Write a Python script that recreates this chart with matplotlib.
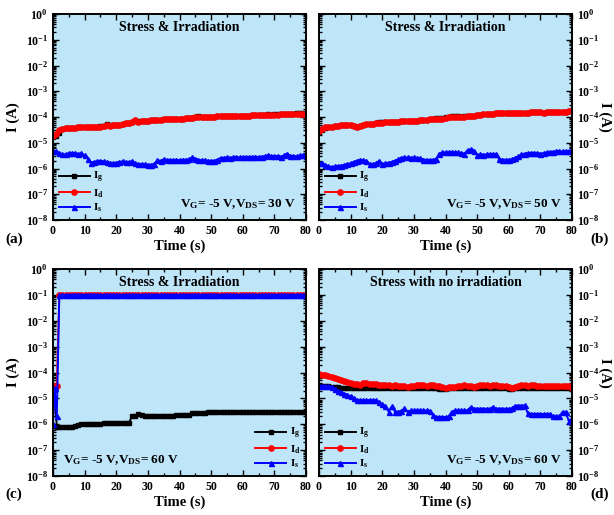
import matplotlib
matplotlib.use("Agg")
import matplotlib.pyplot as plt
from matplotlib.ticker import MultipleLocator, LogLocator, NullFormatter

plt.rcParams['font.family'] = ['Liberation Serif', 'DejaVu Serif']
plt.rcParams['font.weight'] = 'bold'
plt.rcParams['axes.labelweight'] = 'bold'
plt.rcParams['mathtext.fontset'] = 'custom'
plt.rcParams['mathtext.rm'] = 'Liberation Serif:bold'
plt.rcParams['mathtext.it'] = 'Liberation Serif:bold'
plt.rcParams['mathtext.bf'] = 'Liberation Serif:bold'

# time axis for panels a, b, d (1 s steps)
t = list(range(0, 81))
# panel c has a few extra points during the first seconds
t_c = [0, 0.5, 1.2] + list(range(2, 81))

# ---- panel (a): VDS = 30 V ----
ig_a = [1.7e-5, 1.8e-5, 2.4e-5, 3.3e-5, 3.6e-5, 3.7e-5, 3.8e-5, 3.9e-5, 4.0e-5, 4.0e-5,
        4.1e-5, 4.1e-5, 4.0e-5, 4.1e-5, 4.2e-5, 4.3e-5, 4.6e-5, 5.2e-5, 4.8e-5, 4.9e-5,
        5.0e-5, 5.1e-5, 5.4e-5, 5.6e-5, 5.8e-5, 6.3e-5, 7.2e-5, 6.7e-5, 6.9e-5, 7.1e-5,
        7.3e-5, 7.5e-5, 7.6e-5, 7.8e-5, 7.9e-5, 8.0e-5, 8.2e-5, 8.3e-5, 8.4e-5, 8.5e-5,
        8.6e-5, 8.7e-5, 8.9e-5, 9.0e-5, 9.3e-5, 9.8e-5, 1.07e-4, 9.9e-5, 9.9e-5, 1.0e-4,
        1.0e-4, 1.02e-4, 1.08e-4, 1.05e-4, 1.06e-4, 1.07e-4, 1.08e-4, 1.09e-4, 1.1e-4, 1.11e-4,
        1.12e-4, 1.13e-4, 1.14e-4, 1.15e-4, 1.16e-4, 1.18e-4, 1.2e-4, 1.22e-4, 1.26e-4, 1.25e-4,
        1.26e-4, 1.27e-4, 1.28e-4, 1.3e-4, 1.32e-4, 1.34e-4, 1.36e-4, 1.38e-4, 1.4e-4, 1.38e-4,
        1.35e-4]
id_a = [1.9e-5, 2.2e-5, 3.0e-5, 3.4e-5, 3.6e-5, 3.7e-5, 3.8e-5, 3.9e-5, 4.0e-5, 4.0e-5,
        4.1e-5, 4.1e-5, 4.0e-5, 4.1e-5, 4.2e-5, 4.2e-5, 4.4e-5, 4.7e-5, 4.6e-5, 4.8e-5,
        5.0e-5, 5.1e-5, 5.4e-5, 5.6e-5, 5.8e-5, 6.3e-5, 7.4e-5, 6.6e-5, 6.9e-5, 7.1e-5,
        7.3e-5, 7.4e-5, 7.6e-5, 7.8e-5, 7.9e-5, 8.0e-5, 8.2e-5, 8.3e-5, 8.4e-5, 8.5e-5,
        8.6e-5, 8.7e-5, 8.9e-5, 9.0e-5, 9.3e-5, 9.6e-5, 9.9e-5, 9.7e-5, 9.8e-5, 1.0e-4,
        1.0e-4, 1.02e-4, 1.07e-4, 1.05e-4, 1.06e-4, 1.07e-4, 1.08e-4, 1.09e-4, 1.1e-4, 1.11e-4,
        1.12e-4, 1.13e-4, 1.14e-4, 1.15e-4, 1.16e-4, 1.17e-4, 1.18e-4, 1.2e-4, 1.22e-4, 1.23e-4,
        1.24e-4, 1.25e-4, 1.26e-4, 1.27e-4, 1.28e-4, 1.3e-4, 1.31e-4, 1.32e-4, 1.33e-4, 1.3e-4,
        1.25e-4]
is_a = [5.0e-6, 4.6e-6, 4.0e-6, 3.5e-6, 3.6e-6, 3.9e-6, 4.1e-6, 3.9e-6, 3.7e-6, 3.9e-6,
        3.2e-6, 2.4e-6, 1.7e-6, 1.8e-6, 1.9e-6, 2.0e-6, 1.9e-6, 1.8e-6, 1.7e-6, 1.6e-6,
        1.7e-6, 1.8e-6, 1.9e-6, 1.8e-6, 1.8e-6, 1.9e-6, 1.6e-6, 1.5e-6, 1.5e-6, 1.45e-6,
        1.4e-6, 1.4e-6, 1.5e-6, 2.1e-6, 2.0e-6, 2.3e-6, 2.1e-6, 2.2e-6, 2.1e-6, 2.2e-6,
        2.1e-6, 2.2e-6, 2.2e-6, 2.3e-6, 2.7e-6, 2.4e-6, 2.2e-6, 2.1e-6, 2.1e-6, 2.0e-6,
        2.0e-6, 2.0e-6, 2.2e-6, 2.6e-6, 2.6e-6, 2.7e-6, 2.6e-6, 2.7e-6, 2.8e-6, 2.7e-6,
        2.8e-6, 2.8e-6, 2.7e-6, 2.8e-6, 2.9e-6, 2.8e-6, 2.9e-6, 3.0e-6, 3.3e-6, 3.0e-6,
        3.0e-6, 3.1e-6, 2.9e-6, 3.2e-6, 3.8e-6, 3.0e-6, 3.1e-6, 3.0e-6, 3.2e-6, 3.3e-6,
        3.1e-6]

# ---- panel (b): VDS = 50 V ----
ig_b = [2.6e-5, 3.1e-5, 3.9e-5, 4.2e-5, 4.1e-5, 4.3e-5, 4.5e-5, 4.8e-5, 4.9e-5, 4.8e-5,
        4.7e-5, 4.5e-5, 4.2e-5, 4.4e-5, 4.9e-5, 5.4e-5, 5.5e-5, 5.4e-5, 5.9e-5, 6.2e-5,
        6.4e-5, 6.3e-5, 6.4e-5, 6.3e-5, 6.5e-5, 6.6e-5, 6.7e-5, 6.8e-5, 6.9e-5, 7.0e-5,
        7.2e-5, 7.3e-5, 7.5e-5, 7.7e-5, 7.9e-5, 8.1e-5, 8.4e-5, 8.8e-5, 8.9e-5, 9.2e-5,
        1.0e-4, 1.04e-4, 1.06e-4, 1.05e-4, 1.05e-4, 1.04e-4, 1.05e-4, 1.07e-4, 1.09e-4, 1.13e-4,
        1.2e-4, 1.24e-4, 1.27e-4, 1.3e-4, 1.32e-4, 1.35e-4, 1.38e-4, 1.4e-4, 1.42e-4, 1.44e-4,
        1.46e-4, 1.47e-4, 1.47e-4, 1.46e-4, 1.47e-4, 1.48e-4, 1.49e-4, 1.5e-4, 1.5e-4, 1.51e-4,
        1.5e-4, 1.49e-4, 1.5e-4, 1.52e-4, 1.54e-4, 1.56e-4, 1.58e-4, 1.6e-4, 1.62e-4, 1.64e-4,
        1.66e-4]
id_b = [2.8e-5, 3.3e-5, 4.0e-5, 4.2e-5, 4.1e-5, 4.3e-5, 4.5e-5, 4.8e-5, 4.9e-5, 4.8e-5,
        4.7e-5, 4.4e-5, 4.0e-5, 4.3e-5, 4.9e-5, 5.4e-5, 5.5e-5, 5.3e-5, 5.8e-5, 6.1e-5,
        6.0e-5, 6.2e-5, 6.4e-5, 6.3e-5, 6.5e-5, 6.6e-5, 6.7e-5, 6.8e-5, 6.9e-5, 7.0e-5,
        7.2e-5, 7.3e-5, 7.5e-5, 7.7e-5, 7.9e-5, 8.0e-5, 8.2e-5, 8.3e-5, 8.4e-5, 8.6e-5,
        9.4e-5, 9.8e-5, 1.0e-4, 1.01e-4, 1.02e-4, 1.03e-4, 1.04e-4, 1.06e-4, 1.08e-4, 1.12e-4,
        1.2e-4, 1.24e-4, 1.27e-4, 1.3e-4, 1.32e-4, 1.35e-4, 1.38e-4, 1.4e-4, 1.42e-4, 1.44e-4,
        1.46e-4, 1.47e-4, 1.47e-4, 1.46e-4, 1.47e-4, 1.48e-4, 1.49e-4, 1.5e-4, 1.5e-4, 1.51e-4,
        1.5e-4, 1.49e-4, 1.5e-4, 1.52e-4, 1.54e-4, 1.56e-4, 1.58e-4, 1.6e-4, 1.62e-4, 1.64e-4,
        1.66e-4]
is_b = [1.6e-6, 1.6e-6, 1.4e-6, 1.2e-6, 1.15e-6, 1.2e-6, 1.25e-6, 1.3e-6, 1.4e-6, 1.5e-6,
        1.6e-6, 1.8e-6, 2.0e-6, 2.2e-6, 2.1e-6, 2.0e-6, 1.5e-6, 1.5e-6, 1.6e-6, 2.0e-6,
        1.5e-6, 1.6e-6, 1.7e-6, 1.8e-6, 2.0e-6, 2.3e-6, 2.6e-6, 2.7e-6, 2.7e-6, 2.6e-6,
        2.7e-6, 2.6e-6, 2.5e-6, 2.2e-6, 2.2e-6, 2.1e-6, 2.2e-6, 2.3e-6, 3.8e-6, 4.2e-6,
        4.3e-6, 4.2e-6, 4.4e-6, 4.2e-6, 4.3e-6, 4.0e-6, 3.8e-6, 5.2e-6, 5.5e-6, 5.0e-6,
        3.4e-6, 3.5e-6, 3.4e-6, 3.6e-6, 3.5e-6, 3.7e-6, 3.6e-6, 2.3e-6, 2.2e-6, 2.2e-6,
        2.2e-6, 2.3e-6, 2.6e-6, 3.0e-6, 3.5e-6, 3.8e-6, 4.0e-6, 4.0e-6, 4.1e-6, 3.9e-6,
        3.8e-6, 4.0e-6, 4.2e-6, 4.4e-6, 4.5e-6, 4.7e-6, 4.8e-6, 4.6e-6, 4.7e-6, 4.8e-6,
        5.0e-6]

# ---- panel (c): VDS = 60 V, breakdown ----
ig_c = [None, 2.2e-5, 7.5e-7, 7.5e-7, 7.6e-7, 7.8e-7, 7.8e-7, 8.0e-7, 8.2e-7, 9.5e-7,
        9.8e-7, 1.0e-6, 1.0e-6, 1.05e-6, 1.05e-6, 1.06e-6, 1.06e-6, 1.07e-6, 1.07e-6, 1.08e-6,
        1.08e-6, 1.09e-6, 1.1e-6, 1.1e-6, 1.12e-6, 1.15e-6, 2.0e-6, 2.1e-6, 2.4e-6, 2.2e-6,
        2.15e-6, 2.1e-6, 2.1e-6, 2.1e-6, 2.1e-6, 2.1e-6, 2.1e-6, 2.15e-6, 2.15e-6, 2.15e-6,
        2.2e-6, 2.2e-6, 2.2e-6, 2.2e-6, 2.2e-6, 2.7e-6, 2.75e-6, 2.8e-6, 2.8e-6, 2.8e-6,
        2.85e-6, 2.85e-6, 2.9e-6, 2.9e-6, 2.9e-6, 2.9e-6, 2.9e-6, 2.9e-6, 2.95e-6, 2.95e-6,
        2.95e-6, 2.95e-6, 2.95e-6, 3.0e-6, 3.0e-6, 3.0e-6, 3.0e-6, 3.0e-6, 3.0e-6, 3.0e-6,
        3.0e-6, 3.0e-6, 3.05e-6, 3.05e-6, 3.05e-6, 3.05e-6, 3.05e-6, 3.1e-6, 3.1e-6, 3.1e-6,
        3.1e-6, 3.1e-6]
id_c = [3.0e-5, 3.0e-5, 3.0e-5, 0.095, 0.095, 0.095, 0.095, 0.095, 0.095, 0.095,
        0.095, 0.095, 0.095, 0.095, 0.095, 0.095, 0.095, 0.095, 0.095, 0.095,
        0.095, 0.095, 0.095, 0.095, 0.095, 0.095, 0.095, 0.095, 0.095, 0.095,
        0.095, 0.095, 0.095, 0.095, 0.095, 0.095, 0.095, 0.095, 0.095, 0.095,
        0.095, 0.095, 0.095, 0.095, 0.095, 0.095, 0.095, 0.095, 0.095, 0.095,
        0.095, 0.095, 0.095, 0.095, 0.095, 0.095, 0.095, 0.095, 0.095, 0.095,
        0.095, 0.095, 0.095, 0.095, 0.095, 0.095, 0.095, 0.095, 0.095, 0.095,
        0.095, 0.095, 0.095, 0.095, 0.095, 0.095, 0.095, 0.095, 0.095, 0.095,
        0.095, 0.095]
is_c = [1.0e-6, 2.5e-5, 2.0e-6, 0.1, 0.1, 0.1, 0.1, 0.1, 0.1, 0.1,
        0.1, 0.1, 0.1, 0.1, 0.1, 0.1, 0.1, 0.1, 0.1, 0.1,
        0.1, 0.1, 0.1, 0.1, 0.1, 0.1, 0.1, 0.1, 0.1, 0.1,
        0.1, 0.1, 0.1, 0.1, 0.1, 0.1, 0.1, 0.1, 0.1, 0.1,
        0.1, 0.1, 0.1, 0.1, 0.1, 0.1, 0.1, 0.1, 0.1, 0.1,
        0.1, 0.1, 0.1, 0.1, 0.1, 0.1, 0.1, 0.1, 0.1, 0.1,
        0.1, 0.1, 0.1, 0.1, 0.1, 0.1, 0.1, 0.1, 0.1, 0.1,
        0.1, 0.1, 0.1, 0.1, 0.1, 0.1, 0.1, 0.1, 0.1, 0.1,
        0.1, 0.1]

# ---- panel (d): VDS = 60 V, dark ----
ig_d = [3.0e-5, 3.0e-5, 2.9e-5, 2.9e-5, 2.8e-5, 2.7e-5, 2.7e-5, 2.6e-5, 2.6e-5, 2.6e-5,
        2.5e-5, 2.5e-5, 2.5e-5, 2.55e-5, 2.5e-5, 2.6e-5, 2.55e-5, 2.5e-5, 2.5e-5, 2.5e-5,
        2.5e-5, 2.5e-5, 2.45e-5, 2.5e-5, 2.5e-5, 2.45e-5, 2.45e-5, 2.5e-5, 2.45e-5, 2.45e-5,
        2.5e-5, 2.5e-5, 2.5e-5, 2.5e-5, 2.45e-5, 2.5e-5, 2.45e-5, 2.45e-5, 2.4e-5, 2.4e-5,
        2.4e-5, 2.45e-5, 2.45e-5, 2.45e-5, 2.5e-5, 2.5e-5, 2.5e-5, 2.5e-5, 2.45e-5, 2.45e-5,
        2.5e-5, 2.5e-5, 2.5e-5, 2.5e-5, 2.5e-5, 2.5e-5, 2.5e-5, 2.45e-5, 2.45e-5, 2.45e-5,
        2.4e-5, 2.4e-5, 2.45e-5, 2.45e-5, 2.5e-5, 2.5e-5, 2.5e-5, 2.5e-5, 2.5e-5, 2.45e-5,
        2.45e-5, 2.45e-5, 2.45e-5, 2.45e-5, 2.45e-5, 2.45e-5, 2.45e-5, 2.45e-5, 2.45e-5, 2.45e-5,
        2.4e-5]
id_d = [8.5e-5, 8.3e-5, 8.0e-5, 7.5e-5, 6.8e-5, 6.0e-5, 5.4e-5, 5.0e-5, 4.6e-5, 4.3e-5,
        4.0e-5, 3.5e-5, 3.7e-5, 3.4e-5, 3.8e-5, 3.9e-5, 3.7e-5, 3.5e-5, 3.6e-5, 3.4e-5,
        3.3e-5, 3.2e-5, 3.3e-5, 3.1e-5, 3.2e-5, 3.1e-5, 3.0e-5, 2.9e-5, 2.8e-5, 2.9e-5,
        3.1e-5, 3.2e-5, 3.2e-5, 3.3e-5, 3.1e-5, 3.2e-5, 3.2e-5, 3.1e-5, 2.9e-5, 2.7e-5,
        2.6e-5, 2.8e-5, 2.7e-5, 2.8e-5, 3.1e-5, 3.1e-5, 3.3e-5, 3.0e-5, 2.9e-5, 2.7e-5,
        3.1e-5, 3.2e-5, 3.3e-5, 3.2e-5, 3.1e-5, 3.3e-5, 3.2e-5, 3.0e-5, 3.1e-5, 2.9e-5,
        2.7e-5, 2.5e-5, 2.8e-5, 3.0e-5, 3.2e-5, 3.3e-5, 3.1e-5, 3.2e-5, 3.2e-5, 3.1e-5,
        3.0e-5, 3.1e-5, 3.0e-5, 3.0e-5, 2.9e-5, 2.9e-5, 3.0e-5, 3.0e-5, 2.9e-5, 3.0e-5,
        2.6e-5]
is_d = [3.0e-5, 3.0e-5, 3.0e-5, 2.9e-5, 2.8e-5, 2.3e-5, 2.0e-5, 1.8e-5, 1.5e-5, 1.4e-5,
        1.2e-5, 1.0e-5, 8.5e-6, 8.5e-6, 8.5e-6, 8.5e-6, 8.7e-6, 8.5e-6, 8.5e-6, 7.0e-6,
        6.0e-6, 5.0e-6, 3.1e-6, 4.9e-6, 3.1e-6, 3.1e-6, 3.2e-6, 4.2e-6, 3.1e-6, 3.4e-6,
        3.4e-6, 3.4e-6, 3.4e-6, 3.4e-6, 3.4e-6, 3.3e-6, 2.2e-6, 1.9e-6, 1.9e-6, 1.9e-6,
        1.9e-6, 2.0e-6, 3.1e-6, 3.4e-6, 3.4e-6, 3.4e-6, 3.4e-6, 3.5e-6, 4.6e-6, 4.0e-6,
        4.0e-6, 4.0e-6, 4.0e-6, 4.0e-6, 4.0e-6, 4.7e-6, 4.0e-6, 4.0e-6, 4.0e-6, 4.0e-6,
        4.0e-6, 4.1e-6, 5.2e-6, 5.3e-6, 5.3e-6, 5.4e-6, 2.7e-6, 2.5e-6, 2.5e-6, 2.5e-6,
        2.5e-6, 2.5e-6, 2.5e-6, 2.5e-6, 2.0e-6, 2.0e-6, 2.0e-6, 3.0e-6, 3.0e-6, 1.3e-6,
        1.7e-6]

titles = ["Stress & Irradiation", "Stress & Irradiation",
          "Stress & Irradiation", "Stress with no irradiation"]
notes = [r"V$_{G}$= -5 V,V$_{DS}$= 30 V", r"V$_{G}$= -5 V,V$_{DS}$= 50 V",
         r"V$_{G}$= -5 V,V$_{DS}$= 60 V", r"V$_{G}$= -5 V,V$_{DS}$= 60 V"]
tags = ["(a)", "(b)", "(c)", "(d)"]

W, H = 614, 515
fig = plt.figure(figsize=(W / 100, H / 100), dpi=100)

def px_axes(l, t_, r, b):
    return fig.add_axes([l / W, 1 - b / H, (r - l) / W, (b - t_) / H])

boxes = [(53, 14, 306, 220), (319, 14, 572, 220),
         (53, 269, 306, 476), (319, 269, 572, 476)]
data = [(t, ig_a, id_a, is_a), (t, ig_b, id_b, is_b),
        (t_c, ig_c, id_c, is_c), (t, ig_d, id_d, is_d)]

bg = '#bfe5f9'

for i, (box, (tt, ig, idd, iss)) in enumerate(zip(boxes, data)):
    ax = px_axes(*box)
    ax.set_facecolor(bg)
    ig = [float('nan') if v is None else v for v in ig]
    ax.plot(tt, ig, '-s', color='black', ms=3.4, lw=1.4, label=r'I$_{g}$')
    ax.plot(tt, idd, '-o', color='red', ms=3.8, lw=1.4, label=r'I$_{d}$')
    ax.plot(tt, iss, '-^', color='blue', ms=3.6, lw=1.4, label=r'I$_{s}$')
    ax.set_yscale('log')
    ax.set_ylim(1e-8, 1e0)
    ax.set_xlim(0, 80)
    ax.set_yticks([10.0 ** k for k in range(-8, 1)])
    ax.yaxis.set_minor_locator(LogLocator(base=10, subs=range(2, 10), numticks=20))
    ax.yaxis.set_minor_formatter(NullFormatter())
    ax.xaxis.set_major_locator(MultipleLocator(10))
    ax.xaxis.set_minor_locator(MultipleLocator(5))
    ax.tick_params(which='both', direction='in', top=True, right=True,
                   left=True, bottom=True, labelsize=8.5, width=1.0)
    ax.tick_params(which='major', length=4)
    ax.tick_params(which='minor', length=2)
    for sp in ax.spines.values():
        sp.set_linewidth(1.4)
    ax.set_xlabel("Time (s)", fontsize=10.5, labelpad=2)
    if i % 2 == 0:
        ax.set_ylabel("I (A)", fontsize=10.5, labelpad=4)
    else:
        ax.yaxis.set_label_position('right')
        ax.tick_params(axis='y', labelleft=False, labelright=True)
        ax.set_ylabel("I (A)", fontsize=10.5, rotation=270, labelpad=9)
    ax.text(0.5, 0.935, titles[i], transform=ax.transAxes, ha='center',
            va='center', fontsize=10, fontweight='bold')
    leg_kw = dict(frameon=False, fontsize=8, handlelength=2.8,
                  labelspacing=0.2, borderaxespad=0.1, handletextpad=0.3)
    if i == 2:
        ax.text(0.04, 0.075, notes[i], transform=ax.transAxes, ha='left',
                va='center', fontsize=9.5, fontweight='bold')
        ax.legend(loc='lower right', **leg_kw)
    else:
        ax.text(0.96, 0.075, notes[i], transform=ax.transAxes, ha='right',
                va='center', fontsize=9.5, fontweight='bold')
        ax.legend(loc='lower left', **leg_kw)

tag_pos = [(5, 239), (590, 239), (5, 494), (590, 494)]
for tag, (x, y) in zip(tags, tag_pos):
    fig.text(x / W, 1 - y / H, tag, fontsize=11, fontweight='bold',
             ha='left', va='center')

fig.savefig("out.png", dpi=100, facecolor='white')
